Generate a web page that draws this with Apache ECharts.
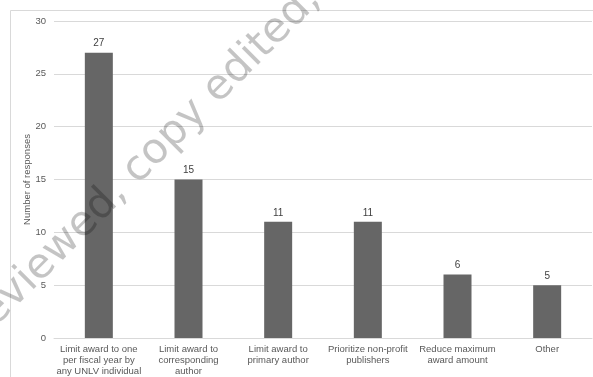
<!DOCTYPE html>
<html>
<head>
<meta charset="utf-8">
<script src="https://cdn.jsdelivr.net/npm/echarts@6/dist/echarts.min.js"></script>
<style>
  html, body { margin: 0; padding: 0; background: #fff; }
  #chart { width: 593px; height: 377px; }
</style>
</head>
<body>
<div id="chart"></div>
<script>
// Suggested changes to the award policy and how many responses each received
const categories = [
  'Limit award to one\nper fiscal year by\nany UNLV individual',
  'Limit award to\ncorresponding\nauthor',
  'Limit award to\nprimary author',
  'Prioritize non-profit\npublishers',
  'Reduce maximum\naward amount',
  'Other'
];
const responses = [27, 15, 11, 11, 6, 5];
const yTicks = [0, 5, 10, 15, 20, 25, 30];

const watermarkText = 'reviewed, copy edited,';
const watermarkPrefix = 'reviewed';
const watermarkFont = '42px "DejaVu Sans"';

const chart = echarts.init(document.getElementById('chart'), null, { renderer: 'canvas' });

// Place the diagonal stamp so the comma after the prefix sits at a fixed spot
const angle = Math.PI / 4;
const ux = Math.cos(angle), uy = -Math.sin(angle);
const ctx = document.createElement('canvas').getContext('2d');
ctx.font = watermarkFont;
const prefixW = ctx.measureText(watermarkPrefix).width;
const commaBase = [121, 206];
const upShift = 14;
const startX = commaBase[0] - prefixW * ux + upShift * (-Math.sin(angle));
const startY = commaBase[1] - prefixW * uy + upShift * (-Math.cos(angle));

const labelFont = 'Liberation Sans, Arial, sans-serif';

chart.setOption({
  animation: false,
  backgroundColor: '#ffffff',
  grid: { left: 54, right: 1, top: 21, bottom: 39, containLabel: false },
  xAxis: {
    type: 'category',
    data: categories,
    axisLine: { show: true, lineStyle: { color: '#d9d9d9', width: 1 } },
    axisTick: { show: false },
    axisLabel: {
      interval: 0,
      color: '#595959',
      fontFamily: labelFont,
      fontSize: 9.5,
      lineHeight: 11,
      margin: 6
    }
  },
  yAxis: {
    type: 'value',
    min: yTicks[0],
    max: yTicks[yTicks.length - 1],
    interval: yTicks[1] - yTicks[0],
    name: 'Number of responses',
    nameLocation: 'middle',
    nameGap: 22,
    nameMoveOverlap: false,
    nameTextStyle: { color: '#595959', fontFamily: labelFont, fontSize: 9.5 },
    axisLine: { show: false },
    axisTick: { show: false },
    axisLabel: { color: '#595959', fontFamily: labelFont, fontSize: 9.5, margin: 8 },
    splitLine: { show: true, lineStyle: { color: '#d9d9d9', width: 1 } }
  },
  series: [{
    type: 'bar',
    data: responses,
    barWidth: 28,
    itemStyle: { color: '#666666' },
    label: {
      show: true,
      position: 'top',
      distance: 4,
      color: '#404040',
      fontFamily: labelFont,
      fontSize: 10
    }
  }],
  graphic: [
    {
      type: 'rect',
      shape: { x: 10.5, y: 10.5, width: 600, height: 420 },
      style: { fill: 'none', stroke: '#d9d9d9', lineWidth: 1 },
      silent: true,
      z: -1
    },
    {
      type: 'text',
      x: startX,
      y: startY,
      rotation: angle,
      style: {
        text: watermarkText,
        font: watermarkFont,
        fill: 'rgba(0,0,0,0.23)',
        align: 'left',
        verticalAlign: 'middle'
      },
      silent: true,
      z: 100
    }
  ]
});
</script>
</body>
</html>
